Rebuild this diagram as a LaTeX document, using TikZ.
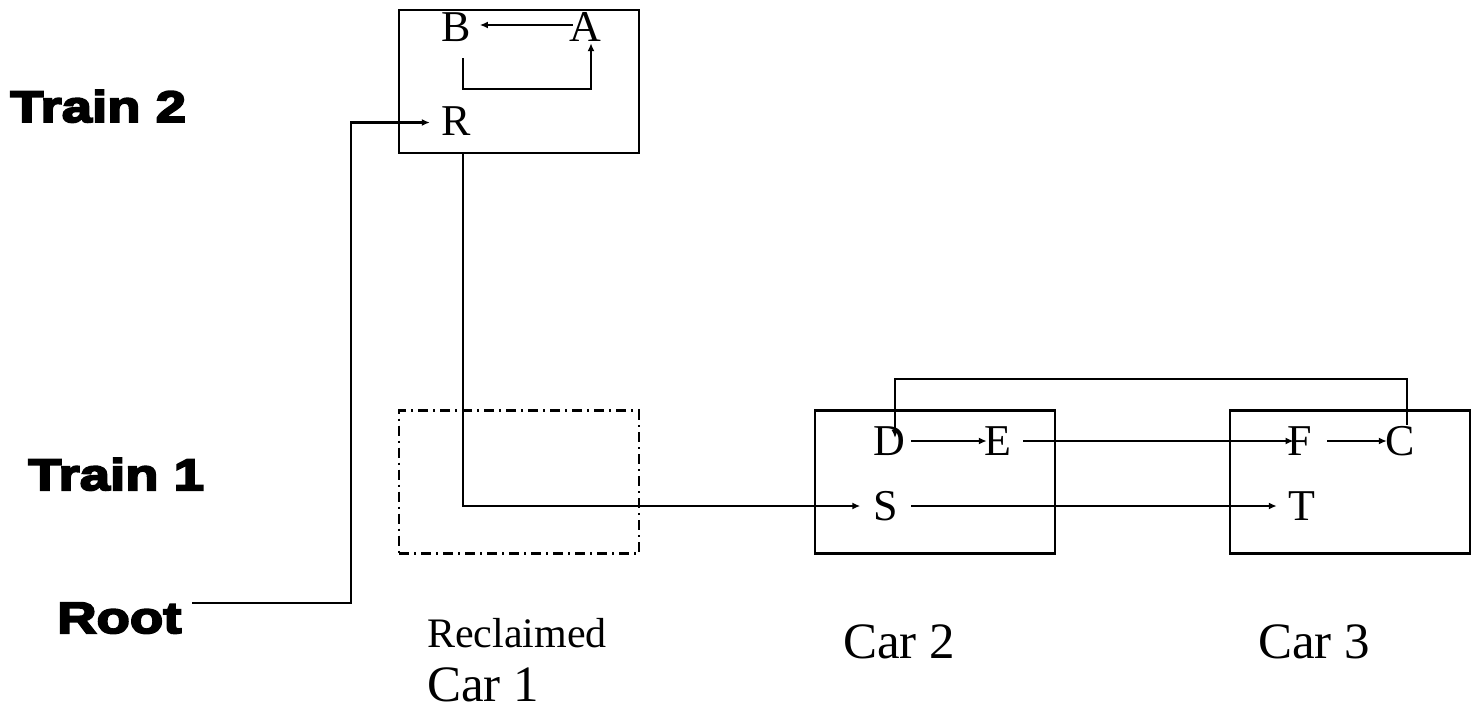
\documentclass[tikz,border=0pt]{standalone}
\usepackage{fontspec}
\setmainfont{Liberation Serif}
\newfontfamily\heavyfont[FakeBold=4.5,FakeStretch=1.24]{Liberation Sans}
\usetikzlibrary{arrows.meta}
\tikzset{
  box/.style={draw, line width=2.1pt, minimum width=240pt, minimum height=143pt, inner sep=0pt},
  dashbox/.style={box, dash pattern=on 10pt off 5pt on 2pt off 5pt},
  letter/.style={inner sep=0pt, font=\fontsize{44}{44}\selectfont},
  arr/.style={line width=2.1pt, -{Latex[length=8pt,width=7pt]}},
  trainlbl/.style={font=\heavyfont\bfseries\fontsize{44}{44}\selectfont, anchor=base west, inner sep=0pt},
  carlbl/.style={font=\fontsize{51}{51}\selectfont, anchor=base west, inner sep=0pt},
  reclbl/.style={font=\fontsize{42}{42}\selectfont, anchor=base west, inner sep=0pt},
}
\begin{document}
\begin{tikzpicture}[x=1pt,y=-1pt]
\useasboundingbox (0,0) rectangle (1478,710);

% boxes
\node[box] (train2box) at (519,81.5) {};
\node[dashbox] (car1box) at (519,482) {};
\node[box] (car2box) at (935,482) {};
\node[box] (car3box) at (1350,482) {};

% side labels
\node[trainlbl] (t2lbl) at (10,122) {Train 2};
\node[trainlbl] (t1lbl) at (28,490) {Train 1};
\node[trainlbl] (Root) at (57,633) {Root};

% bottom labels
\node[reclbl] (rec) at (427,647) {Reclaimed};
\node[carlbl] (car1) at (427,701) {Car 1};
\node[carlbl] (car2) at (843,658) {Car 2};
\node[carlbl] (car3) at (1258,658) {Car 3};

% letters
\node[letter] (B) at (456,27) {B};
\node[letter] (A) at (585,27) {A};
\node[letter] (R) at (456,121) {R};
\node[letter] (D) at (889,441) {D};
\node[letter] (E) at (998,441) {E};
\node[letter] (F) at (1300,441) {F};
\node[letter] (C) at (1400,441) {C};
\node[letter] (S) at (886,506) {S};
\node[letter] (T) at (1302,506) {T};

% helper coordinates
\coordinate (rootstart) at (192,603);
\coordinate (rootcorner) at (351,603);
\coordinate (rdown) at (463,153);

% connectors
\draw[arr] ([shift={(4,-2)}]A.west) -- ([shift={(9,-2)}]B.east);
\draw[arr] ([shift={(7,16.5)}]B.south) |- ([shift={(6,47.5)}]A.south) -- ([shift={(6,1.5)}]A.south);
\draw[arr] (rootstart) -- (rootcorner) |- ([shift={(-11.3,1.5)}]R.west);
\draw[arr] (rdown) |- ([shift={(-13.3,0)}]S.west);
\draw[arr] ([shift={(6,0)}]D.east) -- ([shift={(2.4,0)}]E.west);
\draw[arr] ([shift={(11.6,0)}]E.east) -- ([shift={(6,0)}]F.west);
\draw[arr] ([shift={(15,0)}]F.east) -- ([shift={(1.7,0)}]C.west);
\draw[arr] ([shift={(13,0)}]S.east) -- ([shift={(-11.6,0)}]T.west);
\draw[arr] ([shift={(7,-1.4)}]C.north) -- ++(0,-46) -| ([shift={(6,11.6)}]D.north);
\end{tikzpicture}
\end{document}
